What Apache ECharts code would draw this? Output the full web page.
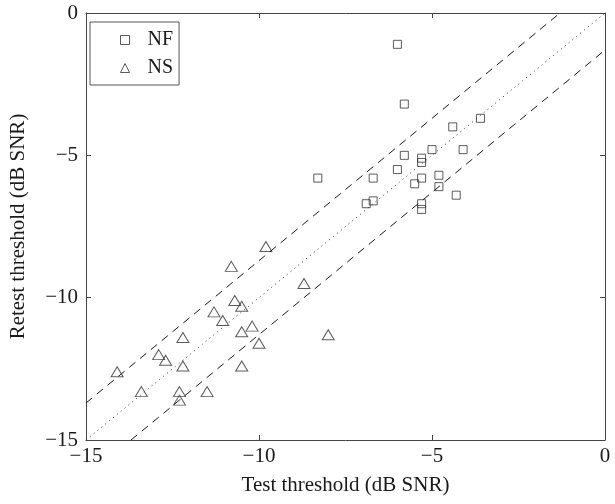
<!DOCTYPE html>
<html>
<head>
<meta charset="utf-8">
<script src="https://cdn.jsdelivr.net/npm/echarts@6/dist/echarts.min.js"></script>
<style>
  html, body { margin: 0; padding: 0; background: #fff; }
  #main { width: 615px; height: 504px; }
</style>
</head>
<body>
<div id="main"></div>
<script>
// NF 组（方块）
const nfTest = [-6.0, -5.8, -3.6, -4.4, -5.0, -4.1, -5.8, -5.3, -5.3, -6.0, -8.3, -6.7, -5.3, -4.8, -5.5, -4.8, -4.3, -6.7, -6.9, -5.3, -5.3]
const nfRetest = [-1.1, -3.2, -3.7, -4.0, -4.8, -4.8, -5.0, -5.1, -5.25, -5.5, -5.8, -5.8, -5.8, -5.7, -6.0, -6.1, -6.4, -6.6, -6.7, -6.7, -6.9]

// NS 组（三角）
const nsTest = [-9.8, -10.8, -10.7, -10.5, -11.3, -11.05, -10.2, -10.5, -10.0, -12.2, -12.9, -12.7, -12.2, -10.5, -14.1, -13.4, -12.3, -12.3, -11.5, -8.0, -8.7]
const nsRetest = [-8.2, -8.9, -10.1, -10.3, -10.5, -10.8, -11.0, -11.2, -11.6, -11.4, -12.0, -12.2, -12.4, -12.4, -12.6, -13.3, -13.3, -13.6, -13.3, -11.3, -9.5]

// 参考线
const diagLine = [[-15, -15], [0, 0]]
const upperLine = [[-15, -13.7], [-1.3, 0]]
const lowerLine = [[-13.7, -15], [0, -1.3]]

const axisTicks = [-15, -10, -5, 0]

const zip = (a, b) => a.map((v, i) => [v, b[i]])
const fmt = (v) => String(v).replace('-', '\u2212')
const font = 'Liberation Serif'
const ink = '#1a1a1a'

const chart = echarts.init(document.getElementById('main'))

const baseAxis = {
  type: 'value',
  min: axisTicks[0],
  max: axisTicks[axisTicks.length - 1],
  interval: 5,
  splitLine: { show: false },
  axisLine: { show: true, onZero: false, lineStyle: { color: '#444', width: 1 } },
  axisTick: { show: true, inside: true, length: 5, lineStyle: { color: '#444' } },
}

const option = {
  animation: false,
  grid: { left: 82, right: 10, top: 13, bottom: 64 },
  legend: {
    left: 90,
    top: 22,
    orient: 'vertical',
    borderColor: '#555',
    borderWidth: 1,
    padding: [8, 6, 7, 30],
    itemGap: 8,
    itemWidth: 9,
    itemHeight: 9,
    itemStyle: { borderWidth: 1, borderColor: '#333', color: 'rgba(0,0,0,0)' },
    textStyle: { fontFamily: font, fontSize: 20, color: ink, padding: [0, 0, 0, 13] },
    data: ['NF', 'NS'],
  },
  xAxis: [
    {
      ...baseAxis,
      name: 'Test threshold (dB SNR)',
      nameLocation: 'middle',
      nameGap: 35,
      nameTextStyle: { fontFamily: font, fontSize: 21, color: ink },
      axisLabel: { fontFamily: font, fontSize: 21, color: ink, margin: 6, formatter: fmt },
    },
    { ...baseAxis, position: 'top', axisLabel: { show: false } },
  ],
  yAxis: [
    {
      ...baseAxis,
      name: 'Retest threshold (dB SNR)',
      nameLocation: 'middle',
      nameGap: 57,
      nameTextStyle: { fontFamily: font, fontSize: 21, color: ink },
      axisLabel: { fontFamily: font, fontSize: 21, color: ink, margin: 8, formatter: fmt },
    },
    { ...baseAxis, position: 'right', axisLabel: { show: false } },
  ],
  series: [
    {
      type: 'line',
      data: diagLine,
      symbol: 'none',
      silent: true,
      lineStyle: { color: '#333', width: 1, type: [1, 4] },
    },
    {
      type: 'line',
      data: upperLine,
      symbol: 'none',
      silent: true,
      lineStyle: { color: ink, width: 1, type: [8, 6] },
    },
    {
      type: 'line',
      data: lowerLine,
      symbol: 'none',
      silent: true,
      lineStyle: { color: ink, width: 1, type: [8, 6] },
    },
    {
      name: 'NF',
      type: 'scatter',
      data: zip(nfTest, nfRetest),
      symbol: 'rect',
      symbolSize: 8,
      itemStyle: { color: 'rgba(0,0,0,0)', borderColor: '#333', borderWidth: 1 },
    },
    {
      name: 'NS',
      type: 'scatter',
      data: zip(nsTest, nsRetest),
      symbol: 'triangle',
      symbolSize: [12, 10],
      itemStyle: { color: 'rgba(0,0,0,0)', borderColor: '#333', borderWidth: 1 },
    },
  ],
}

option && chart.setOption(option)
</script>
</body>
</html>
